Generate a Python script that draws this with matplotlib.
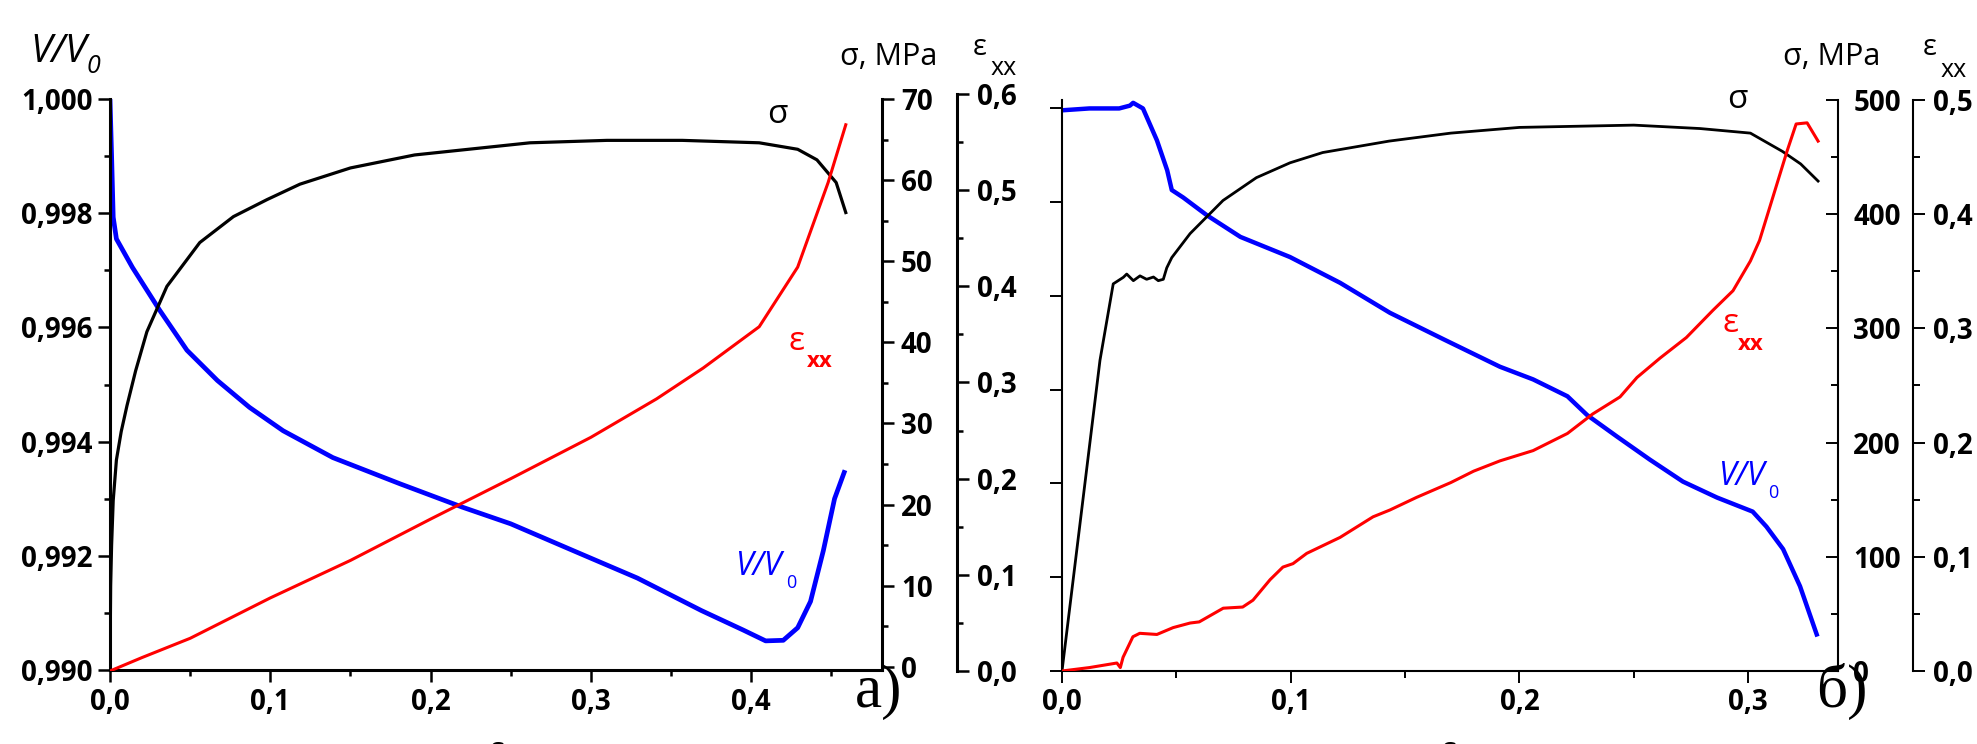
import matplotlib
matplotlib.use('Agg')
import matplotlib.pyplot as plt
from matplotlib.ticker import MultipleLocator, FuncFormatter, NullFormatter

plt.rcParams['font.family'] = ['Open Sans', 'DejaVu Sans']

# ---------------- panel a) data ----------------
eps_a_sig = [0, 0.0004, 0.001, 0.002, 0.004, 0.007, 0.0106, 0.016, 0.023, 0.0355, 0.056,
             0.077, 0.098, 0.1185, 0.15, 0.19, 0.262, 0.31, 0.357, 0.405, 0.429, 0.441,
             0.453, 0.459]
sig_a = [0, 10, 15, 20.5, 25.5, 29, 32.2, 36.5, 41.3, 46.9, 52.3,
         55.5, 57.6, 59.5, 61.5, 63.1, 64.6, 64.9, 64.9, 64.6, 63.8, 62.5,
         59.7, 56.0]

eps_a_exx = [0, 0.02, 0.05, 0.1, 0.15, 0.2, 0.25, 0.3, 0.341, 0.37, 0.405, 0.429, 0.448, 0.459]
exx_a = [0, 0.014, 0.034, 0.076, 0.115, 0.158, 0.2, 0.243, 0.283, 0.315, 0.358, 0.42, 0.508, 0.568]

eps_a_vol = [0, 0.001, 0.002, 0.004, 0.014, 0.031, 0.048, 0.067, 0.087, 0.108, 0.139,
             0.181, 0.22, 0.25, 0.289, 0.329, 0.369, 0.395, 0.409, 0.42, 0.429, 0.437,
             0.445, 0.452, 0.458]
vol_a = [1.000, 0.9990, 0.99793, 0.99755, 0.99705, 0.9963, 0.9956, 0.99507, 0.9946,
         0.99419, 0.99372, 0.99326, 0.99285, 0.99256, 0.99209, 0.99161, 0.99104, 0.99070,
         0.99051, 0.99052, 0.99074, 0.9912, 0.99209, 0.9930, 0.99346]

# ---------------- panel б) data ----------------
eps_b_sig = [0, 0.0166, 0.0224, 0.0268, 0.0283, 0.0312, 0.0341, 0.037,
             0.040, 0.0421, 0.0443, 0.0458, 0.048, 0.056, 0.0704, 0.085, 0.0997, 0.114,
             0.143, 0.17, 0.2, 0.25, 0.279, 0.301, 0.315, 0.323, 0.3306]
sig_b = [0, 272, 339, 344.7, 347.6, 341.8, 346, 343,
         345, 341.8, 343, 353, 362, 383, 412, 432, 445, 454,
         464, 471, 476, 478, 475, 471, 455, 444, 429]

eps_b_exx = [0, 0.012, 0.024, 0.0255, 0.0267, 0.031, 0.034, 0.0415, 0.0486, 0.056, 0.060,
             0.0705, 0.079, 0.0835, 0.091, 0.0966, 0.101, 0.107, 0.1216, 0.136, 0.1434,
             0.155, 0.17, 0.18, 0.1915, 0.206, 0.221, 0.232, 0.244, 0.2514, 0.2615, 0.273,
             0.2847, 0.2934, 0.301, 0.305, 0.317, 0.321, 0.3258, 0.3306]
exx_b = [0, 0.003, 0.007, 0.003, 0.012, 0.03, 0.033, 0.032, 0.038, 0.042, 0.043,
         0.055, 0.056, 0.062, 0.080, 0.091, 0.094, 0.103, 0.117, 0.135, 0.141,
         0.152, 0.165, 0.175, 0.184, 0.193, 0.208, 0.225, 0.240, 0.257, 0.274, 0.292,
         0.316, 0.333, 0.359, 0.377, 0.455, 0.479, 0.48, 0.464]

eps_b_vol = [0, 0.012, 0.025, 0.0297, 0.0311, 0.0354, 0.0415, 0.046, 0.048, 0.053, 0.0634,
             0.078, 0.0997, 0.1216, 0.1434, 0.1675, 0.1915, 0.206, 0.221, 0.2296, 0.2427,
             0.257, 0.2715, 0.2864, 0.302, 0.308, 0.3153, 0.3227, 0.330]
vol_b = [0.598, 0.6, 0.6, 0.603, 0.606, 0.6, 0.566, 0.534, 0.513, 0.505, 0.486,
         0.463, 0.4415, 0.414, 0.382, 0.353, 0.3245, 0.311, 0.293, 0.273, 0.25,
         0.2255, 0.202, 0.185, 0.170, 0.154, 0.130, 0.0904, 0.039]

W, H = 1977, 744
fig = plt.figure(figsize=(W / 100, H / 100), dpi=100)


def px_axes(x0, x1, ytop, ybot, **kw):
    return fig.add_axes([x0 / W, 1 - ybot / H, (x1 - x0) / W, (ybot - ytop) / H], **kw)


def ptxt(x, y, s, **kw):
    kw.setdefault('ha', 'left')
    kw.setdefault('va', 'baseline')
    fig.text(x / W, 1 - y / H, s, **kw)


def comma(nd):
    return FuncFormatter(lambda v, p: f'{v:.{nd}f}'.replace('.', ','))


TL = dict(labelsize=20, length=8.6, width=1.8)
TLm = dict(length=4.3, width=1.8)


def style_ticks(ax, lw):
    for lab in ax.get_xticklabels() + ax.get_yticklabels():
        lab.set_fontweight('bold')
    for s in ax.spines.values():
        s.set_linewidth(lw)


# ================= panel a) =================
ax1 = px_axes(110, 882, 99, 670)
ax1.set_xlim(0, 772 / 1603)
ax1.set_ylim(0.990, 1.000)
ax1.plot(eps_a_vol, vol_a, color='#0000ff', lw=3.4, solid_joinstyle='round')
ax1.yaxis.set_major_locator(MultipleLocator(0.002))
ax1.yaxis.set_minor_locator(MultipleLocator(0.001))
ax1.yaxis.set_major_formatter(comma(3))
ax1.xaxis.set_major_locator(MultipleLocator(0.1))
ax1.xaxis.set_minor_locator(MultipleLocator(0.05))
ax1.xaxis.set_major_formatter(comma(1))
ax1.tick_params(which='major', direction='out', pad=4, **TL)
ax1.tick_params(which='minor', direction='out', **TLm)
ax1.spines['top'].set_visible(False)
ax1.spines['right'].set_visible(False)

ax1s = ax1.twinx()
ax1s.set_ylim(-0.4, 70)
ax1s.plot(eps_a_sig, sig_a, color='black', lw=2.3, solid_joinstyle='round')
ax1s.yaxis.set_major_locator(MultipleLocator(10))
ax1s.yaxis.set_minor_locator(MultipleLocator(5))
ax1s.tick_params(which='major', direction='out', pad=5, **TL)
ax1s.tick_params(which='minor', direction='out', **TLm)
for k in ['top', 'left', 'bottom']:
    ax1s.spines[k].set_visible(False)

ax1e = px_axes(110, 882, 94, 671, sharex=ax1)
ax1e.patch.set_visible(False)
ax1e.set_ylim(0, 0.6)
ax1e.plot(eps_a_exx, exx_a, color='#ff0000', lw=2.2, solid_joinstyle='round')
ax1e.yaxis.tick_right()
ax1e.spines['right'].set_position(('outward', 54))
for k in ['top', 'left', 'bottom']:
    ax1e.spines[k].set_visible(False)
ax1e.xaxis.set_visible(False)
ax1e.yaxis.set_major_locator(MultipleLocator(0.1))
ax1e.yaxis.set_minor_locator(MultipleLocator(0.05))
ax1e.yaxis.set_major_formatter(comma(1))
ax1e.tick_params(which='major', direction='out', pad=6, **TL)
ax1e.tick_params(which='minor', direction='out', **TLm)

for a in (ax1, ax1s, ax1e):
    style_ticks(a, 2.2)

# ================= panel б) =================
ax2 = px_axes(1062, 1838, 100, 671)
ax2.set_xlim(0, 776 / 2287)
ax2.set_ylim(0, 0.609)
ax2.plot(eps_b_vol, vol_b, color='#0000ff', lw=3.2, solid_joinstyle='round')
ax2.yaxis.set_major_locator(MultipleLocator(0.1))
ax2.yaxis.set_major_formatter(NullFormatter())
ax2.xaxis.set_major_locator(MultipleLocator(0.1))
ax2.xaxis.set_minor_locator(MultipleLocator(0.05))
ax2.xaxis.set_major_formatter(comma(1))
ax2.tick_params(which='major', direction='out', pad=4, labelsize=20, length=8.6, width=1.4)
ax2.tick_params(which='minor', direction='out', length=5, width=1.4)
ax2.spines['top'].set_visible(False)
ax2.spines['right'].set_visible(False)

ax2s = ax2.twinx()
ax2s.set_ylim(0, 500)
ax2s.plot(eps_b_sig, sig_b, color='black', lw=2.0, solid_joinstyle='round')
ax2s.yaxis.set_major_locator(MultipleLocator(100))
ax2s.yaxis.set_minor_locator(MultipleLocator(50))
ax2s.tick_params(which='major', direction='in', pad=11, labelsize=20, length=8.6, width=1.4)
ax2s.tick_params(which='minor', direction='in', length=5, width=1.4)
for k in ['top', 'left', 'bottom']:
    ax2s.spines[k].set_visible(False)

ax2e = ax2.twinx()
ax2e.set_ylim(0, 0.5)
ax2e.plot(eps_b_exx, exx_b, color='#ff0000', lw=2.2, solid_joinstyle='round')
ax2e.spines['right'].set_position(('outward', 54))
for k in ['top', 'left', 'bottom']:
    ax2e.spines[k].set_visible(False)
ax2e.yaxis.set_major_locator(MultipleLocator(0.1))
ax2e.yaxis.set_minor_locator(MultipleLocator(0.05))
ax2e.yaxis.set_major_formatter(comma(1))
ax2e.tick_params(which='major', direction='out', pad=6, labelsize=20, length=8.6, width=1.4)
ax2e.tick_params(which='minor', direction='out', length=5, width=1.4)

for a in (ax2, ax2s, ax2e):
    style_ticks(a, 1.5)

# ================= texts =================
# panel a)
ptxt(30, 62, 'V/V', fontsize=28, style='italic')
ptxt(87, 73, '0', fontsize=18, style='italic')
ptxt(840, 65, 'σ, MPa', fontsize=22)
ptxt(973, 55, 'ε', fontsize=21)
ptxt(991, 75, 'xx', fontsize=18)
ptxt(767, 123, 'σ', fontsize=24)
ptxt(788, 350, 'ε', fontsize=24, color='#ff0000')
ptxt(807, 367, 'xx', fontsize=16, color='#ff0000', fontweight='bold')
ptxt(735, 575, 'V/V', fontsize=23, style='italic', color='#0000ff')
ptxt(786, 588, '0', fontsize=13, color='#0000ff')
ptxt(855, 707, 'а)', fontsize=44, family='Liberation Serif')
ptxt(490, 736, 'ε', fontsize=22, va='top')

# panel б)
ptxt(1783, 65, 'σ, MPa', fontsize=22)
ptxt(1923, 55, 'ε', fontsize=21)
ptxt(1941, 77, 'xx', fontsize=18)
ptxt(1727, 108, 'σ', fontsize=24)
ptxt(1722, 332, 'ε', fontsize=24, color='#ff0000')
ptxt(1738, 350, 'xx', fontsize=16, color='#ff0000', fontweight='bold')
ptxt(1718, 485, 'V/V', fontsize=23, style='italic', color='#0000ff')
ptxt(1768, 498, '0', fontsize=13, color='#0000ff')
ptxt(1816, 707, 'б)', fontsize=44, family='Liberation Serif')
ptxt(1442, 736, 'ε', fontsize=22, va='top')

fig.savefig('out.png', dpi=100)
